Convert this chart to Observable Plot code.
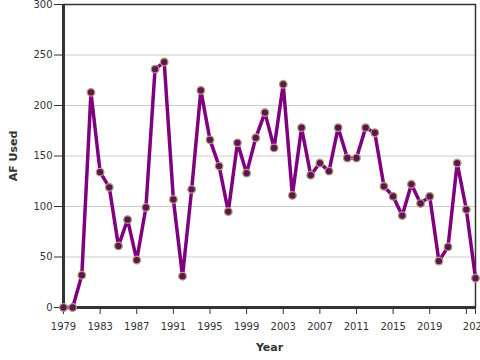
<!DOCTYPE html>
<html>
<head>
<meta charset="utf-8">
<script src="https://cdn.jsdelivr.net/npm/d3@7"></script>
<script src="https://cdn.jsdelivr.net/npm/@observablehq/plot@0.6"></script>
<style>
  body { margin: 0; background: #fff; }
  #chart svg { font-family: "DejaVu Sans", sans-serif; }
  #chart [aria-label="x-axis label"] text, #chart [aria-label="y-axis label"] text { font-weight: bold; font-size: 11px; }
</style>
</head>
<body>
<div id="chart"></div>
<script>
const years = d3.range(1979, 2025);
const afUsed = [0, 0, 32, 213, 134, 119, 61, 87, 47, 99, 236, 243, 107, 31, 117, 215, 166, 140, 95, 163, 133, 168, 193, 158, 221, 111, 178, 131, 143, 135, 178, 148, 148, 178, 173, 120, 110, 91, 122, 103, 110, 46, 60, 143, 97, 29];
const xTicks = [1979, 1983, 1987, 1991, 1995, 1999, 2003, 2007, 2011, 2015, 2019, 2023, 2024];
const yTicks = [0, 50, 100, 150, 200, 250, 300];

const data = years.map((y, i) => ({year: y, value: afUsed[i]}));

const chart = Plot.plot({
  width: 480,
  height: 360,
  marginLeft: 63,
  marginRight: 5,
  marginTop: 4,
  marginBottom: 53,
  style: {fontFamily: "DejaVu Sans, sans-serif", fontSize: "10px", color: "#333"},
  x: {domain: [1979, 2024]},
  y: {domain: [0, 300]},
  marks: [
    Plot.gridY(yTicks, {stroke: "#ccc", strokeOpacity: 1}),
    Plot.axisY(yTicks, {tickSize: 9, tickPadding: 2, label: "AF Used", labelAnchor: "center", labelArrow: "none", labelOffset: 54, stroke: "#333"}),
    Plot.axisX(xTicks, {tickSize: 7, tickPadding: 8, tickFormat: d => d === 2023 ? "" : String(d), label: "Year", labelAnchor: "center", labelArrow: "none", labelOffset: 43, stroke: "#333"}),
    Plot.frame({stroke: "#333", strokeWidth: 1.5}),
    Plot.ruleY([0], {stroke: "#333", strokeWidth: 3}),
    Plot.ruleX([1979], {stroke: "#333", strokeWidth: 3}),
    Plot.line(data, {x: "year", y: "value", stroke: "#800080", strokeWidth: 3.5}),
    Plot.dot(data, {x: "year", y: "value", r: 3.8, fill: "#5e1456", stroke: "#b09c74", strokeWidth: 1.3})
  ]
});
document.getElementById("chart").append(chart);
</script>
</body>
</html>
